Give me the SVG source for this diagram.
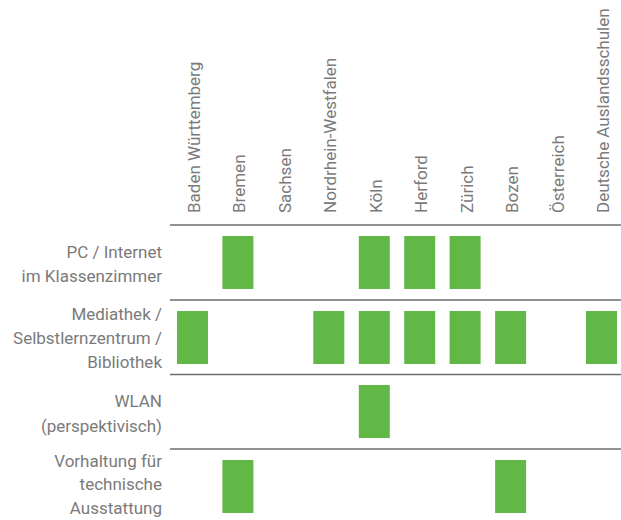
<svg xmlns="http://www.w3.org/2000/svg" width="621" height="520" viewBox="0 0 621 520">
<style>
text{font-family:Roboto,"Liberation Sans",sans-serif;font-size:17px;fill:#7a7a7a}
.rl{text-anchor:end}
.line{stroke:#6e6e6e;stroke-width:1.6;fill:none}
.cell{fill:#62b847}
</style>
<rect width="621" height="520" fill="#fff"/>
<g id="columns">
<text transform="translate(200,213) rotate(-90)">Baden Württemberg</text>
<text transform="translate(245.4,213) rotate(-90)">Bremen</text>
<text transform="translate(290.9,213) rotate(-90)">Sachsen</text>
<text transform="translate(336.3,213) rotate(-90)">Nordrhein-Westfalen</text>
<text transform="translate(381.8,213) rotate(-90)">Köln</text>
<text transform="translate(427.2,213) rotate(-90)">Herford</text>
<text transform="translate(472.6,213) rotate(-90)">Zürich</text>
<text transform="translate(518.1,213) rotate(-90)">Bozen</text>
<text transform="translate(563.5,213) rotate(-90)">Österreich</text>
<text transform="translate(609,213) rotate(-90)">Deutsche Auslandsschulen</text>
</g>
<g id="connectors">
<line class="line" x1="170" y1="225" x2="621" y2="225"/>
<line class="line" x1="170" y1="300" x2="621" y2="300"/>
<line class="line" x1="170" y1="374.5" x2="621" y2="374.5"/>
<line class="line" x1="170" y1="449" x2="621" y2="449"/>
</g>
<g id="row1">
<text class="rl" x="162" y="257.5">PC / Internet</text>
<text class="rl" x="162" y="282">im Klassenzimmer</text>
<rect class="cell" x="222.4" y="236" width="31" height="53"/>
<rect class="cell" x="358.8" y="236" width="31" height="53"/>
<rect class="cell" x="404.2" y="236" width="31" height="53"/>
<rect class="cell" x="449.6" y="236" width="31" height="53"/>
</g>
<g id="row2">
<text class="rl" x="162" y="320">Mediathek /</text>
<text class="rl" x="162" y="344">Selbstlernzentrum /</text>
<text class="rl" x="162" y="368">Bibliothek</text>
<rect class="cell" x="177" y="311" width="31" height="53"/>
<rect class="cell" x="313.3" y="311" width="31" height="53"/>
<rect class="cell" x="358.8" y="311" width="31" height="53"/>
<rect class="cell" x="404.2" y="311" width="31" height="53"/>
<rect class="cell" x="449.6" y="311" width="31" height="53"/>
<rect class="cell" x="495.1" y="311" width="31" height="53"/>
<rect class="cell" x="586" y="311" width="31" height="53"/>
</g>
<g id="row3">
<text class="rl" x="162" y="406.5">WLAN</text>
<text class="rl" x="162" y="431.5">(perspektivisch)</text>
<rect class="cell" x="358.8" y="385" width="31" height="53"/>
</g>
<g id="row4">
<text class="rl" x="162" y="466.5">Vorhaltung für</text>
<text class="rl" x="162" y="490">technische</text>
<text class="rl" x="162" y="514">Ausstattung</text>
<rect class="cell" x="222.4" y="460" width="31" height="53"/>
<rect class="cell" x="495.1" y="460" width="31" height="53"/>
</g>
</svg>
